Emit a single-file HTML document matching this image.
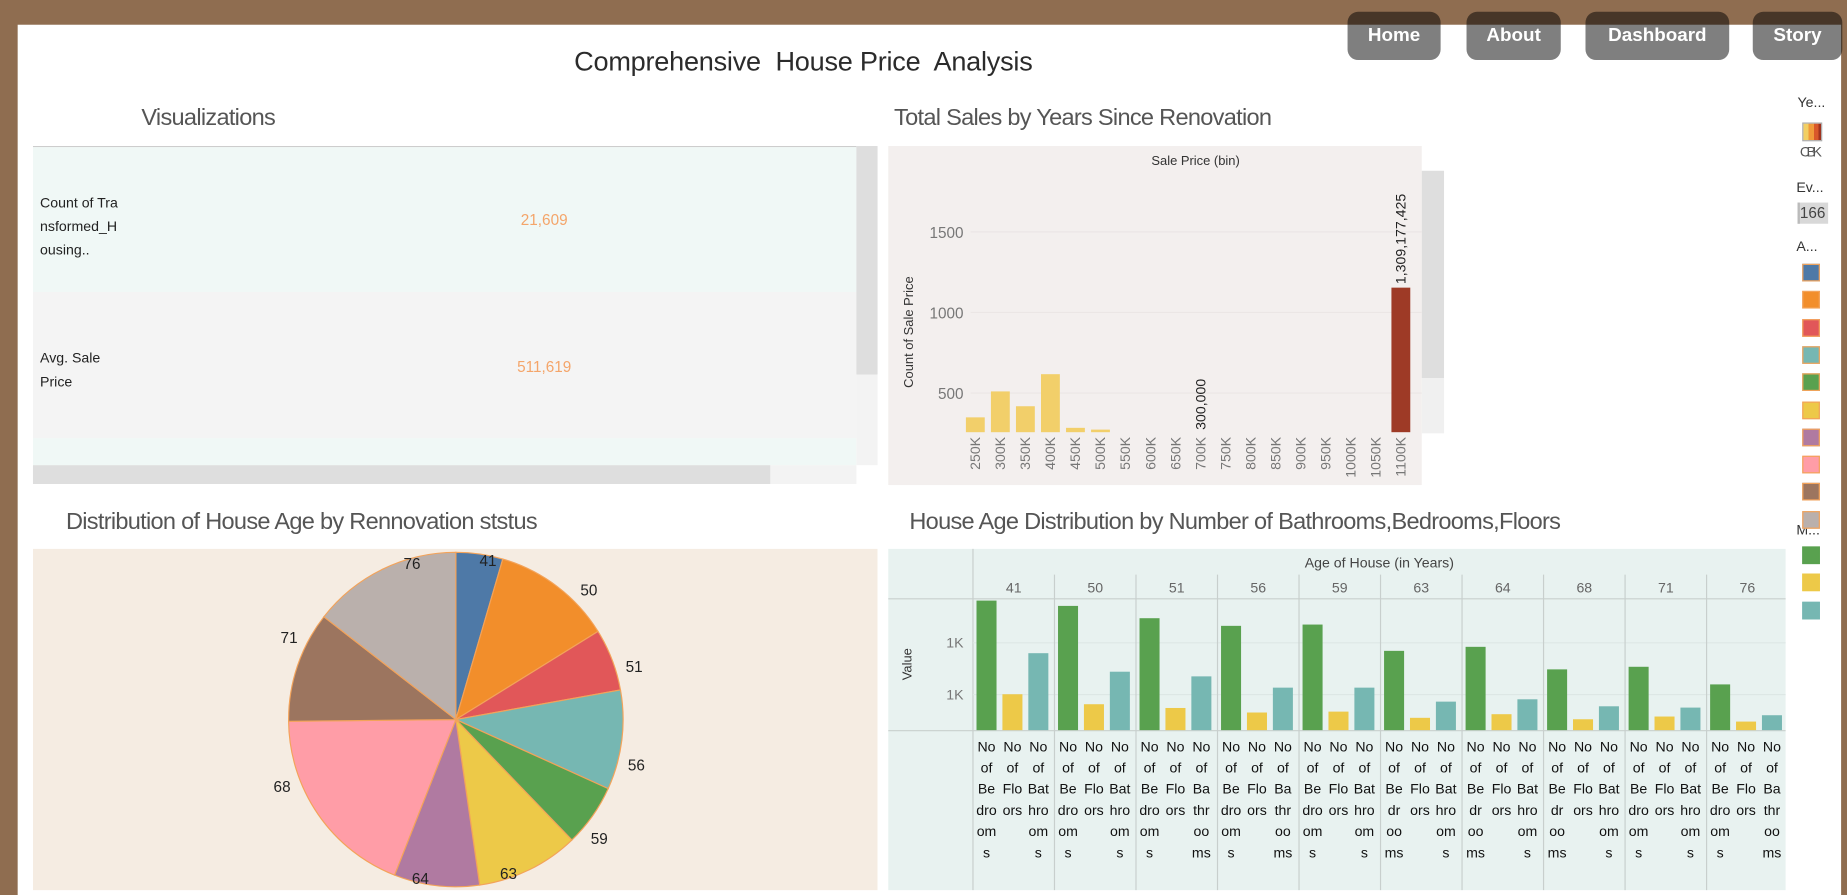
<!DOCTYPE html>
<html><head><meta charset="utf-8">
<style>
html,body{margin:0;padding:0;width:1847px;height:895px;overflow:hidden;background:#8f6d50;}
#root{position:absolute;left:0;top:0;width:1568px;height:760px;transform:scale(1.17793,1.17763);transform-origin:0 0;font-family:"Liberation Sans",sans-serif;}
.abs{position:absolute;}
.btn{position:absolute;top:10px;height:41px;background:rgba(0,0,0,0.5);border-radius:9px;color:#fff;font-weight:bold;font-size:16px;line-height:41px;text-align:center;}
.ttl{position:absolute;font-size:20px;color:#555;font-weight:normal;letter-spacing:-0.6px;}
.leg{position:absolute;font-size:12px;color:#333;}
.sw{position:absolute;left:1530px;width:13px;height:13px;border:1px solid #f3a35a;}
</style></head><body>
<div id="root">
<div class="abs" style="left:15px;top:21px;width:1548px;height:739px;background:#fff;"></div>

<div class="btn" style="left:1144px;width:79px;">Home</div>
<div class="btn" style="left:1245px;width:80px;">About</div>
<div class="btn" style="left:1346px;width:122px;">Dashboard</div>
<div class="btn" style="left:1488px;width:76px;">Story</div>

<div class="abs" style="left:382px;top:39px;width:600px;text-align:center;font-size:23px;color:#2b2b2b;letter-spacing:-0.2px;">Comprehensive&nbsp; House Price&nbsp; Analysis</div>

<div class="ttl" style="left:120px;top:89px;">Visualizations</div>
<div class="ttl" style="left:759px;top:89px;">Total Sales by Years Since Renovation</div>
<div class="ttl" style="left:56px;top:432px;">Distribution of House Age by Rennovation ststus</div>
<div class="ttl" style="left:772px;top:432px;">House Age Distribution by Number of Bathrooms,Bedrooms,Floors</div>

<!-- KPI table -->
<div class="abs" style="left:28px;top:124px;width:717px;height:287px;">
  <div class="abs" style="left:0;top:0;width:699px;height:1px;background:#ccc;"></div>
  <div class="abs" style="left:0;top:1px;width:699px;height:123px;background:#f0f8f6;">
    <div class="abs" style="left:6px;top:37px;width:80px;font-size:12px;line-height:20px;color:#222;">Count of Tra<br>nsformed_H<br>ousing..</div>
    <div class="abs" style="left:384px;top:54px;width:100px;text-align:center;font-size:13px;color:#f4a56a;">21,609</div>
  </div>
  <div class="abs" style="left:0;top:124px;width:699px;height:124px;background:#f4f4f4;">
    <div class="abs" style="left:6px;top:46px;width:80px;font-size:12px;line-height:20px;color:#222;">Avg. Sale<br>Price</div>
    <div class="abs" style="left:384px;top:56px;width:100px;text-align:center;font-size:13px;color:#f4a56a;">511,619</div>
  </div>
  <div class="abs" style="left:0;top:248px;width:699px;height:23px;background:#f0f8f6;"></div>
  <div class="abs" style="left:699px;top:0;width:18px;height:194px;background:#dedede;"></div>
  <div class="abs" style="left:699px;top:194px;width:18px;height:77px;background:#f3f3f3;"></div>
  <div class="abs" style="left:0;top:271px;width:626px;height:16px;background:#dedede;"></div>
  <div class="abs" style="left:626px;top:271px;width:73px;height:16px;background:#f3f3f3;"></div>
</div>

<svg class="abs" id="hist" style="left:754px;top:124px;" width="472" height="288"></svg>
<svg class="abs" id="pie" style="left:28px;top:466px;" width="717" height="290"></svg>
<svg class="abs" id="grp" style="left:754px;top:466px;" width="762" height="290"></svg>

<div class="leg" style="left:1526px;top:80px;">Ye...</div>
<div class="abs" style="left:1530px;top:104px;width:15px;height:14px;border:1px solid #aaa;background:linear-gradient(90deg,#f2cf63 0 30%,#f09a3a 30% 60%,#d9582a 60% 85%,#a0331f 85%);"></div>
<div class="leg" style="left:1528px;top:122px;color:#555;letter-spacing:-3px;">CBK</div>
<div class="leg" style="left:1525px;top:152px;">Ev...</div>
<div class="abs" style="left:1526px;top:172px;width:24px;height:18px;background:#d8d8d8;border-left:2px solid #bbb;font-size:13px;color:#444;line-height:18px;">166</div>
<div class="leg" style="left:1525px;top:202px;">A...</div>
<div class="leg" style="left:1525px;top:443px;">M...</div>
<div id="legbox"></div>
</div>

<script>
var NS="http://www.w3.org/2000/svg";
function mk(parent,tag,attrs){var e=document.createElementNS(NS,tag);for(var k in attrs)e.setAttribute(k,attrs[k]);parent.appendChild(e);return e;}
function txt(parent,x,y,s,attrs){var t=mk(parent,"text",attrs);t.setAttribute("x",x);t.setAttribute("y",y);t.textContent=s;return t;}

/* ---------- Histogram data ---------- */
var binLabels=["250K","300K","350K","400K","450K","500K","550K","600K","650K","700K","750K","800K","850K","900K","950K","1000K","1050K","1100K"];
var binCounts=[349,510,418,617,284,273,0,0,0,0,0,0,0,0,0,0,0,1154];
var histTicks=[500,1000,1500];
var histAnnotations=[{bin:"700K",text:"300,000",onBar:false},{bin:"1100K",text:"1,309,177,425",onBar:true}];

var hs=document.getElementById("hist");
var hMin=257,hMax=1872,hTop=22,hBase=243;
function hy(v){return hBase-(v-hMin)/(hMax-hMin)*(hBase-hTop);}
var hx0=74,hStep=21.25;
function hx(i){return hx0+i*hStep;}
var bg=mk(hs,"rect",{x:0,y:0,width:453,height:288,fill:"#f3efee"});


var sb=mk(hs,"rect",{x:453,y:21,width:19,height:176,fill:"#dedede"});


mk(hs,"rect",{x:453,y:197,width:19,height:47,fill:"#f0f0f0"});
var ht=txt(hs,261,16,"Sale Price (bin)",{"font-size":11,fill:"#333","text-anchor":"middle"});


var yt=txt(hs,0,0,"Count of Sale Price",{"font-size":11,fill:"#333","text-anchor":"middle",transform:"translate(21,158) rotate(-90)"});


histTicks.forEach(function(v){
  var t=txt(hs,64,hy(v)+5,String(v),{"font-size":13,fill:"#777","text-anchor":"end"});
  
  
  mk(hs,"line",{x1:70,x2:453,y1:hy(v),y2:hy(v),stroke:"#ebe6e5","stroke-width":1});
});
binLabels.forEach(function(l,i){
  var c=binCounts[i];
  if(c>hMin){
    var r=mk(hs,"rect",{x:hx(i)-8,y:hy(c),width:16,height:hBase-hy(c),fill:(l==="1100K"?"#9e3a26":"#f2cf6a")});
    
    
  }
  var t=txt(hs,0,0,l,{"font-size":12,fill:"#777","text-anchor":"end",transform:"translate("+(hx(i)+4)+","+(hBase+4)+") rotate(-90)"});
  
  
});
histAnnotations.forEach(function(a){
  var i=binLabels.indexOf(a.bin);var c=binCounts[i];
  var y0=a.onBar?hy(c)-3:hBase-2;
  var t=txt(hs,0,0,a.text,{"font-size":12,fill:"#222","text-anchor":"start",transform:"translate("+(hx(i)+4)+","+y0+") rotate(-90)"});
  
  
});

/* ---------- Pie data ---------- */
var ageLabels=["41","50","51","56","59","63","64","68","71","76"];
var ageCounts=[163,419,216,346,217,357,297,679,385,521];
var ageColors=["#4e79a7","#f28e2b","#e15759","#76b7b2","#59a14f","#edc948","#b07aa1","#ff9da7","#9c755f","#bab0ac"];

var ps=document.getElementById("pie");
var pbg=mk(ps,"rect",{x:0,y:0,width:717,height:290,fill:"#f5ece2"});


var cx=359,cy=145,R=142;
var tot=ageCounts.reduce(function(a,b){return a+b;},0);
var acc=0;
var labelPos=[];
ageLabels.forEach(function(l,i){
  var a0=acc/tot*2*Math.PI;acc+=ageCounts[i];var a1=acc/tot*2*Math.PI;
  var x0=cx+R*Math.sin(a0),y0=cy-R*Math.cos(a0),x1=cx+R*Math.sin(a1),y1=cy-R*Math.cos(a1);
  var large=(a1-a0)>Math.PI?1:0;
  var p=mk(ps,"path",{d:"M"+cx+","+cy+" L"+x0+","+y0+" A"+R+","+R+" 0 "+large+" 1 "+x1+","+y1+" Z",fill:ageColors[i],stroke:"#f3a35a","stroke-width":1});
  
  
  var am=a0+0.7*(a1-a0);
  labelPos.push([am,l]);
});
labelPos.forEach(function(q){
  var am=q[0],l=q[1];
  var lr=(am<0.4||am>5.6||Math.abs(am-Math.PI)<0.5)?R-4:R+16;
  var t=txt(ps,cx+lr*Math.sin(am),cy-lr*Math.cos(am)+5,l,{"font-size":13,fill:"#222","text-anchor":"middle"});
  
  
});

/* ---------- Grouped bar data ---------- */
var groupAges=["41","50","51","56","59","63","64","68","71","76"];
var bedrooms=[1726,1685,1590,1531,1541,1338,1369,1195,1215,1079];
var floors=[1003,926,897,862,869,821,849,810,831,792];
var bathrooms=[1320,1177,1141,1054,1054,946,964,910,900,841];
var grpTicks=[1000,1400];
var grpTickLabels=["1K","1K"];
var measureColors=["#59a14f","#edc948","#76b7b2"];
var wrapped=[
 ["No|of|Be|dro|om|s","No|of|Flo|ors","No|of|Bat|hro|om|s"],
 ["No|of|Be|dro|om|s","No|of|Flo|ors","No|of|Bat|hro|om|s"],
 ["No|of|Be|dro|om|s","No|of|Flo|ors","No|of|Ba|thr|oo|ms"],
 ["No|of|Be|dro|om|s","No|of|Flo|ors","No|of|Ba|thr|oo|ms"],
 ["No|of|Be|dro|om|s","No|of|Flo|ors","No|of|Bat|hro|om|s"],
 ["No|of|Be|dr|oo|ms","No|of|Flo|ors","No|of|Bat|hro|om|s"],
 ["No|of|Be|dr|oo|ms","No|of|Flo|ors","No|of|Bat|hro|om|s"],
 ["No|of|Be|dr|oo|ms","No|of|Flo|ors","No|of|Bat|hro|om|s"],
 ["No|of|Be|dro|om|s","No|of|Flo|ors","No|of|Bat|hro|om|s"],
 ["No|of|Be|dro|om|s","No|of|Flo|ors","No|of|Ba|thr|oo|ms"]];

var gs=document.getElementById("grp");
var gbg=mk(gs,"rect",{x:0,y:0,width:762,height:290,fill:"#e8f2f0"});


var gMin=726,gMax=1726,gTop=44,gBase=154;
function gy(v){return gBase-(v-gMin)/(gMax-gMin)*(gBase-gTop);}
var gx0=72,gW=69.2;
function gx(i){return gx0+i*gW;}
var gt=txt(gs,417,16,"Age of House (in Years)",{"font-size":12,fill:"#444","text-anchor":"middle"});


mk(gs,"line",{x1:72,x2:72,y1:0,y2:290,stroke:"#c8cfcd"});
mk(gs,"line",{x1:0,x2:762,y1:42.5,y2:42.5,stroke:"#c8cfcd"});
mk(gs,"line",{x1:0,x2:762,y1:154.5,y2:154.5,stroke:"#c8cfcd"});
var yv=txt(gs,0,0,"Value",{"font-size":11,fill:"#333","text-anchor":"middle",transform:"translate(20,98) rotate(-90)"});


grpTicks.forEach(function(v,k){
  var t=txt(gs,64,gy(v)+4,grpTickLabels[k],{"font-size":12,fill:"#777","text-anchor":"end"});
  
  
  mk(gs,"line",{x1:72,x2:762,y1:gy(v),y2:gy(v),stroke:"#dde7e5"});
});
var series=[bedrooms,floors,bathrooms];
groupAges.forEach(function(a,i){
  var x=gx(i);
  if(i>0)mk(gs,"line",{x1:x,x2:x,y1:22,y2:290,stroke:"#c8cfcd"});
  var t=txt(gs,x+gW/2,37,a,{"font-size":12,fill:"#666","text-anchor":"middle"});
  
  
  series.forEach(function(s,j){
    var bx=x+3+j*22;
    var r=mk(gs,"rect",{x:bx,y:gy(s[i]),width:17,height:gBase-gy(s[i]),fill:measureColors[j]});
    
    
    wrapped[i][j].split("|").forEach(function(w,k){
      var tt=txt(gs,bx+8.5,172+k*18,w,{"font-size":12,fill:"#111","text-anchor":"middle"});
      
      
    });
  });
});

/* ---------- Legend swatches ---------- */
var lb=document.getElementById("legbox");
ageColors.forEach(function(c,i){
  var d=document.createElement("div");d.className="sw";
  d.style.top=(224+i*23.3)+"px";d.style.background=c;
  
  
  lb.appendChild(d);
});
measureColors.forEach(function(c,i){
  var d=document.createElement("div");d.className="sw";
  d.style.top=(464+i*23.3)+"px";d.style.background=c;d.style.border="1px solid "+c;
  
  
  lb.appendChild(d);
});
</script>
</body></html>
